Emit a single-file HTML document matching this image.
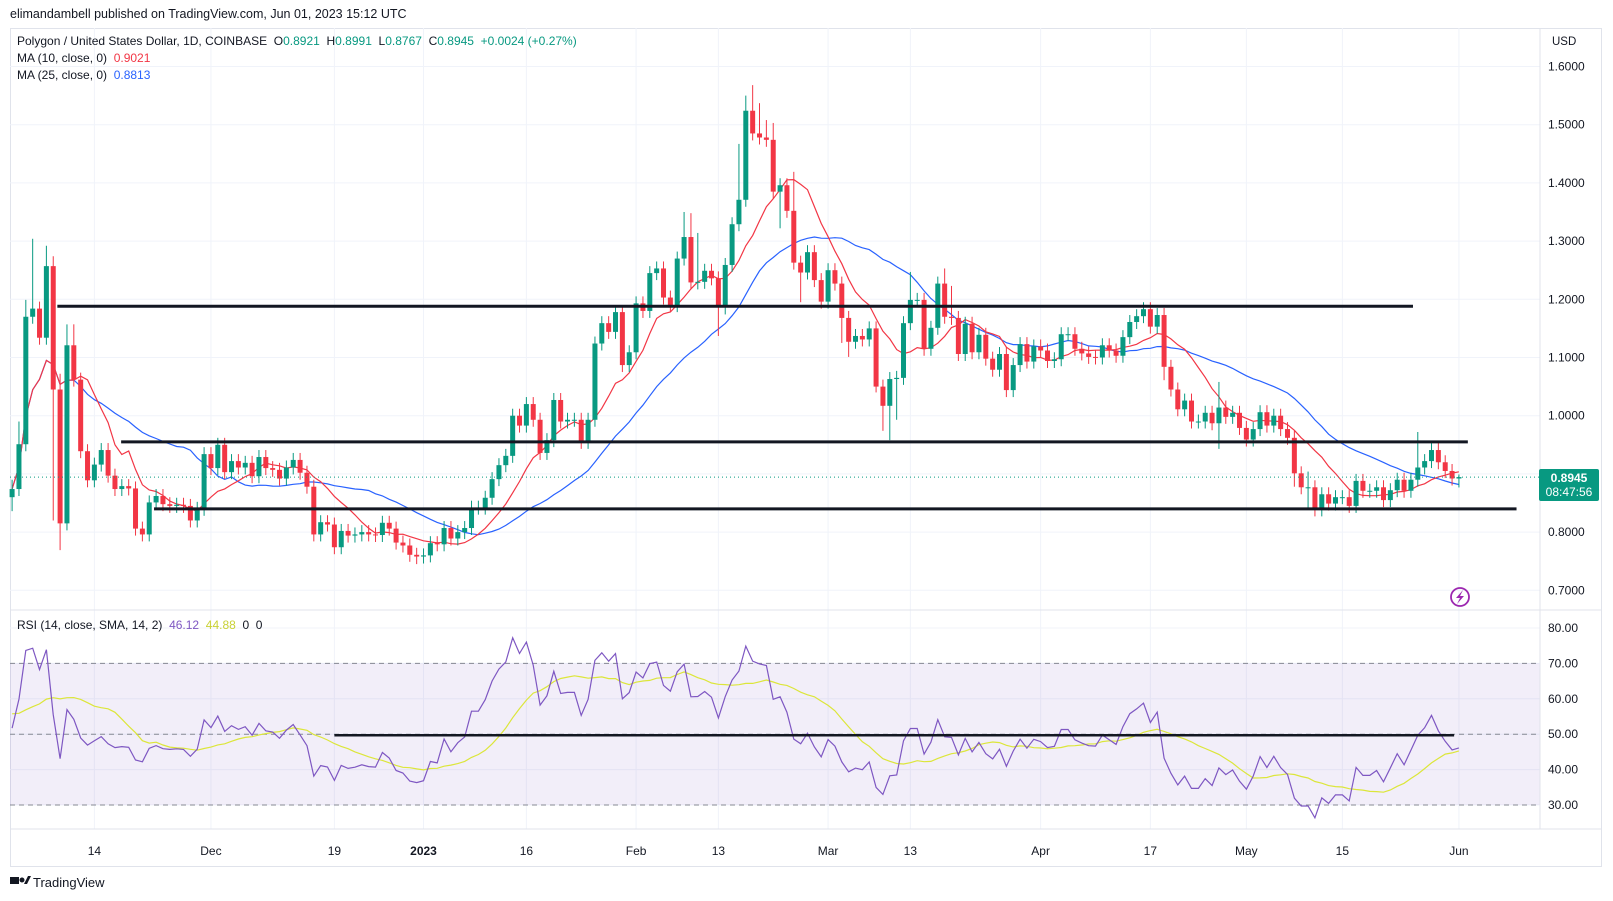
<!DOCTYPE html>
<html><head><meta charset="utf-8"><style>
html,body{margin:0;padding:0;background:#fff;}
svg{display:block;font-family:"Liberation Sans",sans-serif;}
text{white-space:pre;}
</style></head><body>
<svg id="c" width="1613" height="901" viewBox="0 0 1613 901" xmlns="http://www.w3.org/2000/svg">
<text x="10" y="18" font-size="12.5" fill="#131722">elimandambell published on TradingView.com, Jun 01, 2023 15:12 UTC</text>
<rect x="10.5" y="28.5" width="1591" height="838" fill="none" stroke="#e0e3eb"/>
<g id="grid"></g>
<rect id="band" x="10" y="663" width="1530" height="142" fill="#7e57c2" fill-opacity="0.1"/>
<g id="lvl"></g>
<g id="ma"></g>
<g id="candles"></g>
<g id="rsi"></g>
<g id="draw"></g>
<g id="axes"></g>
<line x1="10" y1="610" x2="1602" y2="610" stroke="#e0e3eb"/>
<line x1="10" y1="829" x2="1602" y2="829" stroke="#e0e3eb"/>
<line x1="1540" y1="28" x2="1540" y2="829" stroke="#e0e3eb"/>
<text x="17" y="45" font-size="12" fill="#131722">Polygon / United States Dollar, 1D, COINBASE  O<tspan fill="#089981">0.8921</tspan>  H<tspan fill="#089981">0.8991</tspan>  L<tspan fill="#089981">0.8767</tspan>  C<tspan fill="#089981">0.8945  +0.0024 (+0.27%)</tspan></text>
<text x="17" y="62" font-size="12" fill="#131722">MA (10, close, 0)  <tspan fill="#f23645">0.9021</tspan></text>
<text x="17" y="79" font-size="12" fill="#131722">MA (25, close, 0)  <tspan fill="#2962ff">0.8813</tspan></text>
<text x="17" y="629" font-size="12" fill="#131722">RSI (14, close, SMA, 14, 2)  <tspan fill="#7e57c2">46.12</tspan>  <tspan fill="#c9d134">44.88</tspan>  <tspan fill="#131722">0  0</tspan></text>
<text x="1552" y="45" font-size="11.5" fill="#131722">USD</text>
<rect x="1539" y="469" width="60" height="32" rx="2" fill="#089981"/>
<text x="1569" y="482" font-size="12" font-weight="bold" fill="#fff" text-anchor="middle">0.8945</text>
<text x="1569" y="496" font-size="12" fill="#fff" text-anchor="middle">08:47:56</text>
<g><circle cx="1460" cy="597" r="9" fill="none" stroke="#9c27b0" stroke-width="1.8"/><path d="M1463 590 L1456 598 L1460 598 L1457 604 L1464 596 L1460 596 Z" fill="#9c27b0"/></g>
<g><rect x="10" y="877" width="9" height="7" fill="#131722"/><circle cx="22" cy="880" r="2.5" fill="#131722"/><path d="M24 884 L28 876 L31 876 L27 884Z" fill="#131722"/><text x="33" y="887" font-size="13" fill="#131722">TradingView</text></g>
</svg>
<script>
const closes=[0.874,0.951,1.170,1.184,1.134,1.257,1.045,0.815,1.121,1.062,0.939,0.889,0.916,0.941,0.897,0.874,0.879,0.875,0.806,0.796,0.851,0.862,0.848,0.845,0.847,0.845,0.820,0.840,0.934,0.910,0.950,0.903,0.922,0.911,0.919,0.896,0.929,0.910,0.907,0.892,0.911,0.924,0.902,0.878,0.796,0.817,0.813,0.774,0.802,0.794,0.796,0.800,0.796,0.795,0.816,0.806,0.782,0.777,0.761,0.758,0.760,0.781,0.779,0.807,0.789,0.800,0.807,0.842,0.842,0.859,0.891,0.915,0.931,1.000,0.983,1.020,0.993,0.936,0.958,1.027,0.990,0.993,0.993,0.955,0.993,1.124,1.159,1.144,1.178,1.087,1.109,1.193,1.180,1.245,1.253,1.203,1.190,1.270,1.307,1.229,1.230,1.249,1.236,1.186,1.259,1.329,1.371,1.524,1.485,1.478,1.474,1.385,1.396,1.352,1.263,1.246,1.281,1.233,1.196,1.250,1.227,1.168,1.127,1.137,1.131,1.150,1.050,1.017,1.063,1.065,1.159,1.199,1.199,1.115,1.151,1.227,1.170,1.168,1.106,1.158,1.109,1.139,1.098,1.079,1.106,1.044,1.087,1.123,1.093,1.119,1.112,1.094,1.097,1.140,1.140,1.115,1.107,1.101,1.100,1.121,1.112,1.103,1.135,1.161,1.171,1.183,1.153,1.173,1.084,1.045,1.011,1.026,0.990,0.990,1.005,0.987,1.014,0.998,1.005,0.979,0.959,0.977,1.006,0.983,1.000,0.977,0.962,0.901,0.877,0.877,0.839,0.865,0.849,0.860,0.860,0.845,0.888,0.871,0.871,0.877,0.855,0.872,0.890,0.871,0.890,0.911,0.922,0.941,0.920,0.905,0.8921,0.8945];
const firstOpen=0.86;
const highIdx=[0,1,2,3,5,6,7,8,9,98,99,100,106,107,108,109,110,111,114,131,136,137,176,189,205,211];
const highVal=[0.89,0.99,1.199,1.304,1.292,1.274,1.072,1.157,1.157,1.350,1.348,1.314,1.467,1.55,1.568,1.537,1.508,1.503,1.419,1.247,1.253,1.223,1.058,0.904,0.972,0.8991];
const lowIdx=[0,6,7,8,59,103,112,115,121,122,126,127,128,129,168,176,187,189,211];
const lowVal=[0.836,0.82,0.769,0.803,0.745,1.137,1.322,1.195,1.125,1.101,1.040,0.974,0.958,0.993,1.061,0.943,0.878,0.838,0.8767];
const rsiSeedAvgGain=0.015, rsiSeedAvgLoss=0.015;
const rsiPriorValues=[58,60,62,57,55,50,48,52,54,56,60,62,55];
const priceTicks=[0.7,0.8,0.9,1.0,1.1,1.2,1.3,1.4,1.5,1.6];
const rsiTicks=[30,40,50,60,70,80];
const timeIdx=[12,29,47,60,75,91,103,119,131,150,166,180,194,211];
const timeLbl=["14","Dec","19","2023","16","Feb","13","Mar","13","Apr","17","May","15","Jun"];
const levelPrices=[1.188,0.955,0.840];
const levelStart=[6.6,15.9,20.7];
const levelEnd=[204.3,212.3,219.4];
const rsiLevelVal=49.7, rsiLevelStart=47, rsiLevelEnd=210.3;
const lastPrice=0.8945;

const NS="http://www.w3.org/2000/svg";
const X=i=>12.1+6.857*i, Y=p=>299.3+(1.2-p)*582, R=v=>628+(80-v)*3.54;
function mk(tag,attrs,parent){const e=document.createElementNS(NS,tag);for(const k in attrs)e.setAttribute(k,attrs[k]);parent.appendChild(e);return e;}
const G=id=>document.getElementById(id);
G('band').setAttribute('y',R(70));G('band').setAttribute('height',R(30)-R(70));
const grid=G('grid'),axes=G('axes');
priceTicks.forEach(p=>{const l=mk('line',{x1:10,x2:1540,y1:Y(p),y2:Y(p),stroke:'#f0f3fa'},grid);


const t=mk('text',{x:1548,y:Y(p)+4,'font-size':12,fill:'#131722'},axes);t.textContent=p.toFixed(4);

});
rsiTicks.forEach(v=>{const l=mk('line',{x1:10,x2:1540,y1:R(v),y2:R(v),stroke:'#f0f3fa'},grid);


const t=mk('text',{x:1548,y:R(v)+4,'font-size':12,fill:'#131722'},axes);t.textContent=v.toFixed(2);

});
timeIdx.forEach((i,k)=>{const l=mk('line',{x1:X(i),x2:X(i),y1:28,y2:829,stroke:'#f0f3fa'},grid);


const t=mk('text',{x:X(i),y:855,'font-size':12,fill:'#131722','text-anchor':'middle','font-weight':timeLbl[k]==='2023'?'bold':'normal'},axes);t.textContent=timeLbl[k];

});
[70,50,30].forEach(v=>{const l=mk('line',{x1:10,x2:1540,y1:R(v),y2:R(v),stroke:'#868993','stroke-dasharray':'5 4'},G('lvl'));

});
function sma(arr,n){return arr.map((_,i)=>{const s=arr.slice(Math.max(0,i-n+1),i+1);return s.reduce((a,b)=>a+b,0)/s.length;});}
function poly(vals,fx,fy){return vals.map((v,i)=>fx(i).toFixed(1)+','+fy(v).toFixed(1)).join(' ');}
const ma10=sma(closes,10),ma25=sma(closes,25);
let pl=mk('polyline',{points:poly(ma25,X,Y),fill:'none',stroke:'#2962ff','stroke-width':1.2},G('ma'));


pl=mk('polyline',{points:poly(ma10,X,Y),fill:'none',stroke:'#f23645','stroke-width':1.2},G('ma'));


const cg=G('candles');
closes.forEach((c,i)=>{const o=i===0?firstOpen:(i===211?0.8921:closes[i-1]);
let h=Math.max(o,c)+0.012,l=Math.min(o,c)-0.012;
const hi=highIdx.indexOf(i);if(hi>=0)h=highVal[hi];const li=lowIdx.indexOf(i);if(li>=0)l=lowVal[li];
const col=c>=o?'#089981':'#f23645';const g=mk('g',{},cg);


mk('line',{x1:X(i),x2:X(i),y1:Y(h),y2:Y(l),stroke:col,'stroke-width':1},g);
const t=Y(Math.max(o,c)),b=Y(Math.min(o,c));
mk('rect',{x:X(i)-2.5,y:t,width:5,height:Math.max(1,b-t),fill:col},g);});
const lp=mk('line',{x1:10,x2:1540,y1:Y(lastPrice),y2:Y(lastPrice),stroke:'#089981','stroke-dasharray':'1 3'},cg);


// RSI (Wilder, seeded with prior averages)
const rsiV=[];let ag=rsiSeedAvgGain,al=rsiSeedAvgLoss;
closes.forEach((c,i)=>{const prev=i===0?firstOpen:closes[i-1];const d=c-prev;const g=Math.max(d,0),l=Math.max(-d,0);
ag=(ag*13+g)/14;al=(al*13+l)/14;rsiV.push(al===0?100:100-100/(1+ag/al));});
const rsiAll=rsiPriorValues.concat(rsiV);
const rsiMa=sma(rsiAll,14).slice(rsiPriorValues.length);
pl=mk('polyline',{points:poly(rsiMa,X,R),fill:'none',stroke:'#dce63a','stroke-width':1.2},G('rsi'));


pl=mk('polyline',{points:poly(rsiV,X,R),fill:'none',stroke:'#7e57c2','stroke-width':1.2},G('rsi'));


levelPrices.forEach((p,k)=>{const l=mk('line',{x1:X(levelStart[k]),x2:X(levelEnd[k]),y1:Y(p),y2:Y(p),stroke:'#131722','stroke-width':3},G('draw'));

});
const rl=mk('line',{x1:X(rsiLevelStart),x2:X(rsiLevelEnd),y1:R(rsiLevelVal),y2:R(rsiLevelVal),stroke:'#131722','stroke-width':2.5},G('draw'));


</script>
</body></html>
